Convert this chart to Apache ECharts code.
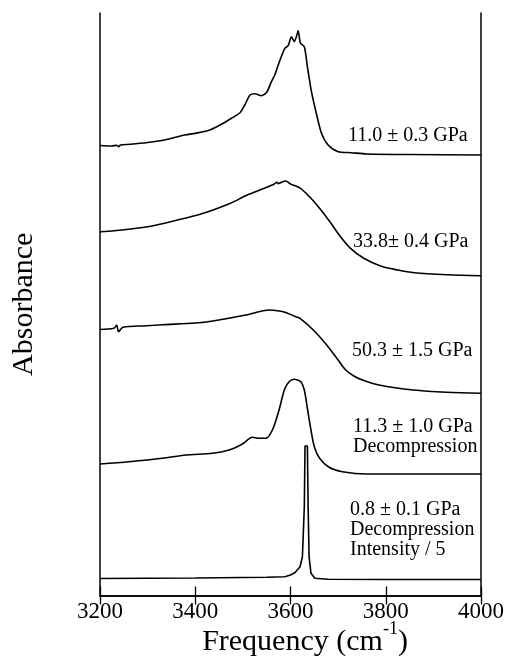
<!DOCTYPE html>
<html>
<head>
<meta charset="utf-8">
<script src="https://cdn.jsdelivr.net/npm/echarts@6.0.0/dist/echarts.min.js"></script>
<style>html,body{margin:0;padding:0;background:#fff}#c{width:508px;height:662px}</style>
</head>
<body>
<div id="c"></div>
<script>
// x axis ticks (cm^-1)
const xTicks = [3200, 3400, 3600, 3800, 4000];

// Spectra: frequency (cm^-1) and absorbance (arbitrary units, stacked offsets as plotted)
const s1Freq = [3200,3225,3235,3239,3243,3264,3300,3336,3378,3405,3432,3455,3476,3494,3504,3515,3525,3539,3550,3560,3567,3578,3588,3595,3602,3608,3613,3616,3621,3629,3636,3644,3655,3665,3679,3700,3728,3760,3850,4000];
const s1Abs  = [450,449.5,450.2,448.8,450.5,451.2,453,455.5,460.5,462.6,465.8,471.2,477.2,482.8,490.5,500.5,501.8,499.8,503.2,513.8,520.5,535.5,547.2,549.8,558.8,553.8,559.8,564.8,552.2,548.8,527.2,503.8,480.5,462.2,450.5,443.8,442.8,441.5,441,440.5];

const s2Freq = [3200,3230,3300,3369,3405,3439,3474,3509,3545,3566,3572,3575,3579,3590,3600,3621,3643,3664,3685,3705,3726,3754,3789,3825,3860,3929,4000];
const s2Abs  = [363.8,364.8,368.8,376.2,380.5,385.8,392.2,400.5,407.2,411.5,413.2,411.8,412.8,414.5,411.5,407.2,397.2,385.5,372.2,358.8,347.2,337.2,329.5,325.5,322.8,320.8,319.8];

const s3Freq = [3200,3229,3235,3239,3248,3298,3332,3401,3437,3506,3543,3555,3573,3590,3611,3620,3648,3676,3700,3716,3733,3751,3786,3858,3928,4000];
const s3Abs  = [266,267.2,270.2,263.8,268.2,269.8,270.8,272.5,274.5,280.5,284.8,285.5,284.8,283,278.8,277.2,265.5,250.5,235.5,225.5,219.5,215.5,210.5,205.5,203.2,202.2];

const s4Freq = [3200,3261,3331,3380,3436,3471,3499,3520,3534,3548,3562,3576,3587,3597,3608,3615,3622,3629,3636,3643,3650,3661,3681,3709,3760,4000];
const s4Abs  = [131.5,133.8,137.2,140.5,142.2,145.5,151.5,158.2,157.2,157.2,165.5,185.5,205.5,213.8,216.2,215.5,213.8,205.5,185.5,165.5,148.8,137.2,128.2,123.8,121.5,121.5];

const s5Freq = [3200,3400,3550,3588,3600,3609,3620,3625,3629,3630.5,3635.5,3637,3639,3643,3651,3679,3800,4000];
const s5Abs  = [17,17.5,18.2,18.8,20.5,22.8,28.8,38.8,88.8,149.5,149.5,88.8,38.8,22.2,17.2,16.2,16,16];

// Annotation texts
const label1 = ['11.0 \u00b1 0.3 GPa'];
const label2 = ['33.8\u00b1 0.4 GPa'];
const label3 = ['50.3 \u00b1 1.5 GPa'];
const label4 = ['11.3 \u00b1 1.0 GPa', 'Decompression'];
const label5 = ['0.8 \u00b1 0.1 GPa', 'Decompression', 'Intensity / 5'];

const xName = 'Frequency (cm';
const xSup = '-1';
const yName = 'Absorbance';

const FONT = 'Liberation Serif';
const zip = (a, b) => a.map((v, i) => [v, b[i]]);

const chart = echarts.init(document.getElementById('c'), null, {renderer: 'canvas'});

const lineSeries = (f, a, smooth) => ({
  type: 'line', data: zip(f, a), showSymbol: false, symbol: 'none',
  smooth: smooth,
  lineStyle: {color: '#000', width: 1.6}, silent: true, animation: false
});

const axisBase = {
  type: 'value', min: 3200, max: 4000, interval: 200,
  axisLine: {show: true, lineStyle: {color: '#000', width: 1.5}},
  axisTick: {show: true, inside: true, length: 9, lineStyle: {color: '#000', width: 1.3}},
  splitLine: {show: false}
};

// annotation positions (pixel): [left, middle-y of first line]
const annPos = [[348, 136], [353, 241.5], [352, 351], [353, 427], [350, 510]];
const annLines = [label1, label2, label3, label4, label5];
const graphics = [];
annLines.forEach((lines, k) => {
  lines.forEach((t, j) => {
    graphics.push({
      type: 'text', x: annPos[k][0], y: annPos[k][1] + j * 19.7,
      style: {text: t, fill: '#000', font: '20px "' + FONT + '"', textAlign: 'left', textVerticalAlign: 'middle'},
      silent: true
    });
  });
});

chart.setOption({
  animation: false,
  backgroundColor: '#fff',
  grid: {left: 100, right: 27, top: 13, bottom: 66.5, containLabel: false, outerBoundsMode: 'none'},
  xAxis: [
    Object.assign({}, axisBase, {
      position: 'bottom',
      axisLabel: {show: true, color: '#000', fontFamily: FONT, fontSize: 23, margin: 5,
        formatter: v => xTicks.includes(v) ? String(v) : ''},
      name: '{a|' + xName + '}{s|' + xSup + '}{a|)}',
      nameLocation: 'middle', nameGap: 25, nameMoveOverlap: false,
      nameTextStyle: {padding: [0, 0, 0, 29], rich: {
        a: {fontFamily: FONT, fontSize: 30, color: '#000'},
        s: {fontFamily: FONT, fontSize: 18, color: '#000', padding: [0, 0, 26, 0]}
      }}
    }),
    Object.assign({}, axisBase, {position: 'top', axisLabel: {show: false}})
  ],
  yAxis: [
    {type: 'value', min: 0, max: 582.5, position: 'left',
     axisLine: {show: true, lineStyle: {color: '#000', width: 1.5}},
     axisTick: {show: false}, axisLabel: {show: false}, splitLine: {show: false},
     name: yName, nameLocation: 'middle', nameGap: 61, nameMoveOverlap: false,
     nameTextStyle: {fontFamily: FONT, fontSize: 30, color: '#000'}},
    {type: 'value', min: 0, max: 582.5, position: 'right',
     axisLine: {show: true, lineStyle: {color: '#000', width: 1.5}},
     axisTick: {show: false}, axisLabel: {show: false}, splitLine: {show: false}}
  ],
  series: [
    lineSeries(s1Freq, s1Abs, 0.25),
    lineSeries(s2Freq, s2Abs, 0.3),
    lineSeries(s3Freq, s3Abs, 0.3),
    lineSeries(s4Freq, s4Abs, 0.3),
    lineSeries(s5Freq, s5Abs, false)
  ],
  graphic: graphics
});
</script>
</body>
</html>
